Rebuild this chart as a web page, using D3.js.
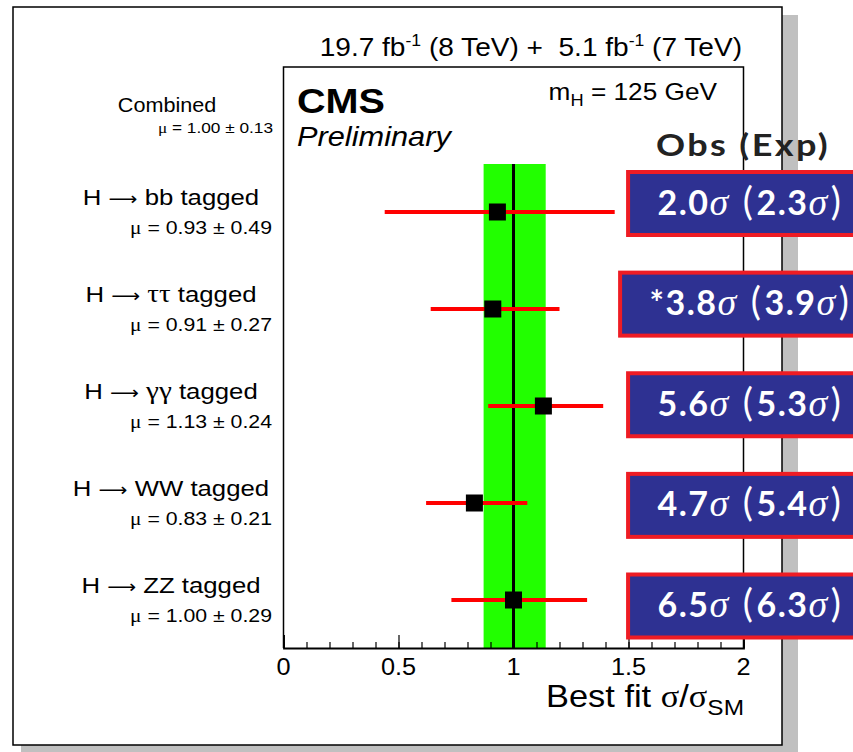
<!DOCTYPE html>
<html><head><meta charset="utf-8">
<script src="https://cdn.jsdelivr.net/npm/d3@7"></script>
<style>
html,body{margin:0;padding:0;background:#fff;}
svg{display:block;}
text{white-space:pre;}
</style></head>
<body>
<script>
// ---- data ----
const channels = ["bb", "ττ", "γγ", "WW", "ZZ"];
const channelGreek = [false, true, true, false, false];
const muBest = [0.93, 0.91, 1.13, 0.83, 1.00];
const muErr = [0.49, 0.27, 0.24, 0.21, 0.29];
const barLo = [0.44, 0.64, 0.89, 0.62, 0.73];
const barHi = [1.44, 1.20, 1.39, 1.06, 1.32];
const obsSig = ["2.0", "*3.8", "5.6", "4.7", "6.5"];
const expSig = ["2.3", "3.9", "5.3", "5.4", "6.3"];
const combinedMu = 1.00;
const combinedErr = 0.13;
const combinedBand = [0.87, 1.14];
const xTicks = [0, 0.5, 1, 1.5, 2];
const xTickLabels = ["0", "0.5", "1", "1.5", "2"];

// ---- layout ----
const W = 853, H = 752;
const SANS = "'Liberation Sans', Arial, Helvetica, sans-serif";
const SERIF = "'Liberation Serif', 'Times New Roman', serif";
const BOXF = "Lato, 'Open Sans', sans-serif";
const SX = 1.12;

const svg = d3.select("body").append("svg").attr("width", W).attr("height", H);

// canvas shadow + frame
svg.append("rect").attr("x", 782).attr("y", 15).attr("width", 16).attr("height", 737).attr("fill", "#c0c0c0");
svg.append("rect").attr("x", 21).attr("y", 745).attr("width", 777).attr("height", 7).attr("fill", "#c0c0c0");
svg.append("rect").attr("x", 13).attr("y", 7).attr("width", 769).attr("height", 738)
  .attr("fill", "#fff").attr("stroke", "#000").attr("stroke-width", 1.5);

const plot = {left: 283.5, right: 743.5, top: 67, bottom: 648};
const x = d3.scaleLinear().domain([0, 2]).range([plot.left, plot.right]);
const y = d3.scalePoint().domain(channels).range([212, 600]);
const yBox = d3.scalePoint().domain(channels).range([203.5, 606]);

function stext(g, px, py, txt, size, opts = {}) {
  const t = g.append("text")
    .attr("transform", `translate(${px},${py}) scale(${opts.sx || SX},1)`)
    .attr("font-family", opts.family || SANS)
    .attr("font-size", size)
    .attr("font-weight", opts.weight || "normal")
    .attr("font-style", opts.style || "normal")
    .attr("text-anchor", opts.anchor || "start")
    .attr("fill", opts.fill || "#000");
  if (opts.ls) t.attr("letter-spacing", opts.ls);
  if (txt !== null) t.text(txt);
  return t;
}

// green band and SM line
svg.append("rect").attr("x", x(combinedBand[0])).attr("y", 164)
  .attr("width", x(combinedBand[1]) - x(combinedBand[0])).attr("height", plot.bottom - 164)
  .attr("fill", "#22ff00");
svg.append("line").attr("x1", x(combinedMu)).attr("x2", x(combinedMu)).attr("y1", 164).attr("y2", plot.bottom)
  .attr("stroke", "#000").attr("stroke-width", 3);

// plot frame
svg.append("path")
  .attr("d", `M${plot.left},${plot.bottom}V${plot.top}H${plot.right}V${plot.bottom}`)
  .attr("fill", "none").attr("stroke", "#000").attr("stroke-width", 1.5);

// axis
const axisG = svg.append("g").attr("transform", `translate(0,${plot.bottom})`);
const minor = d3.range(0, 2.0001, 0.1).map(v => +v.toFixed(1));
axisG.append("g").call(d3.axisBottom(x).tickValues(minor).tickSize(-6).tickFormat(""))
  .call(g => g.select(".domain").remove())
  .selectAll("line").attr("stroke-width", 1.2);
const major = axisG.append("g").call(d3.axisBottom(x).tickValues(xTicks).tickSize(-13)
  .tickFormat((d, i) => xTickLabels[i]));
major.select(".domain").attr("stroke-width", 1.8);
major.selectAll("line").attr("stroke-width", 1.2);
major.selectAll("text").remove();
xTicks.forEach((v, i) => stext(axisG, x(v), 27, xTickLabels[i], 23, {anchor: "middle", sx: 1.1}));

// axis title
const at = stext(svg, 744, 707, null, 31, {anchor: "end", sx: 1.11});
at.append("tspan").text("Best fit ");
at.append("tspan").attr("font-family", SERIF).text("σ");
at.append("tspan").text("/");
at.append("tspan").attr("font-family", SERIF).text("σ");
at.append("tspan").attr("font-size", 22).attr("dy", 8).text("SM");

// error bars and points
svg.append("g").selectAll("line").data(channels).join("line")
  .attr("x1", (d, i) => x(barLo[i])).attr("x2", (d, i) => x(barHi[i]))
  .attr("y1", d => y(d)).attr("y2", d => y(d))
  .attr("stroke", "#ff0000").attr("stroke-width", 4);
const sq = 17;
svg.append("g").selectAll("rect").data(channels).join("rect")
  .attr("x", (d, i) => x(muBest[i]) - sq / 2).attr("y", d => y(d) - sq / 2)
  .attr("width", sq).attr("height", sq).attr("fill", "#000");

// left labels
channels.forEach((c, i) => {
  const t = stext(svg, 171, y(c) - 7, null, 23, {anchor: "middle"});
  t.append("tspan").text("H ");
  t.append("tspan").attr("font-family", "'DejaVu Sans', sans-serif").attr("font-size", 18).text("⟶");
  t.append("tspan").text(" ");
  if (channelGreek[i]) t.append("tspan").attr("font-family", SERIF).attr("font-size", 26).text(c);
  else t.append("tspan").text(c);
  t.append("tspan").text(" tagged");
  const m = stext(svg, 272, y(c) + 22, null, 19, {anchor: "end"});
  m.append("tspan").attr("font-family", SERIF).text("μ");
  m.append("tspan").text(` = ${muBest[i].toFixed(2)} ± ${muErr[i].toFixed(2)}`);
});

// combined
stext(svg, 167, 112, "Combined", 20, {anchor: "middle", sx: 1.08});
const cm = stext(svg, 273, 133, null, 15, {anchor: "end", sx: 1.15});
cm.append("tspan").attr("font-family", SERIF).text("μ");
cm.append("tspan").text(` = ${combinedMu.toFixed(2)} ± ${combinedErr.toFixed(2)}`);

// header
const hd = stext(svg, 742, 56, null, 25.5, {anchor: "end", sx: 1.1});
hd.append("tspan").text("19.7 fb");
hd.append("tspan").attr("font-size", 16).attr("dy", -10).text("-1");
hd.append("tspan").attr("dy", 10).text(" (8 TeV) +  5.1 fb");
hd.append("tspan").attr("font-size", 16).attr("dy", -10).text("-1");
hd.append("tspan").attr("dy", 10).text(" (7 TeV)");

// CMS labels
stext(svg, 297, 113, "CMS", 36, {weight: "bold", sx: 1.1});
stext(svg, 297, 146, "Preliminary", 27, {style: "italic", sx: 1.14});
const mh = stext(svg, 717, 100, null, 23, {anchor: "end", sx: 1.14});
mh.append("tspan").text("m");
mh.append("tspan").attr("font-size", 16).attr("dy", 6).text("H");
mh.append("tspan").attr("dy", -6).text(" = 125 GeV");

// significance boxes
stext(svg, 743, 156, "Obs (Exp)", 30, {anchor: "middle", weight: "bold", family: BOXF, sx: 1.2, ls: 2, fill: "#222"});
const boxG = svg.append("g");
channels.forEach((c, i) => {
  const g = boxG.append("g");
  const rect = g.append("rect");
  const t = g.append("text")
    .attr("x", 750).attr("y", yBox(c) + 11)
    .attr("text-anchor", "middle")
    .attr("font-family", BOXF)
    .attr("font-weight", "bold").attr("font-size", 34).attr("fill", "#fff")
    .attr("letter-spacing", 1.5);
  t.append("tspan").text(obsSig[i]);
  t.append("tspan").attr("font-family", SERIF).attr("font-style", "italic").attr("font-weight", "normal").attr("font-size", 38).text("σ");
  t.append("tspan").attr("font-weight", "normal").attr("font-size", 38).attr("dx", 13).text("(");
  t.append("tspan").attr("dx", 2).text(expSig[i]);
  t.append("tspan").attr("font-family", SERIF).attr("font-style", "italic").attr("font-weight", "normal").attr("font-size", 38).text("σ");
  t.append("tspan").attr("font-weight", "normal").attr("font-size", 38).attr("dx", 2).text(")");
  const w = t.node().getComputedTextLength();
  const left = 750 - w / 2 - 38;
  rect.attr("x", left).attr("y", yBox(c) - 31.5).attr("width", 880 - left).attr("height", 63)
    .attr("fill", "#2e3192").attr("stroke", "#ee1c24").attr("stroke-width", 4);
});
</script>
</body></html>
